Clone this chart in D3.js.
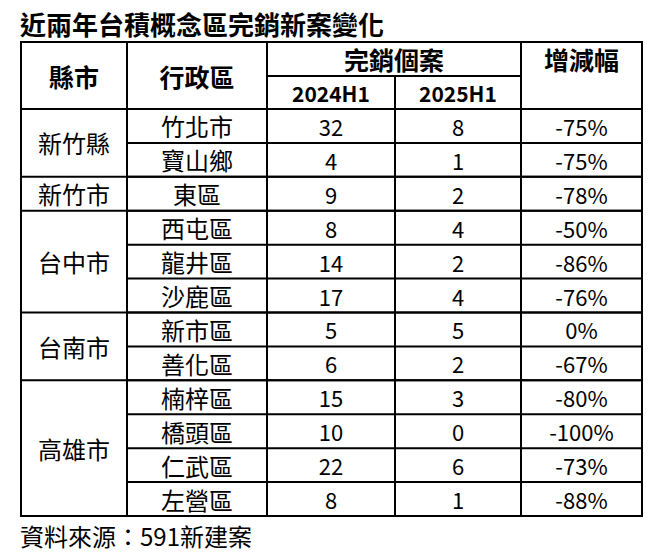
<!DOCTYPE html><html><head><meta charset="utf-8">
<script src="https://cdn.jsdelivr.net/npm/d3@7"></script>
<style>body{margin:0;background:#fff}</style></head><body><svg id="c" width="671" height="555"></svg>
<script>
const title="近兩年台積概念區完銷新案變化";
const headers=["縣市","行政區","完銷個案","增減幅"];
const subHeaders=["2024H1","2025H1"];
const cities=[["新竹縣",2],["新竹市",1],["台中市",3],["台南市",2],["高雄市",4]];
const districts=["竹北市","寶山鄉","東區","西屯區","龍井區","沙鹿區","新市區","善化區","楠梓區","橋頭區","仁武區","左營區"];
const v2024=[32,4,9,8,14,17,5,6,15,10,22,8];
const v2025=[8,1,2,4,2,4,5,2,3,0,6,1];
const change=["-75%","-75%","-78%","-50%","-86%","-76%","0%","-67%","-80%","-100%","-73%","-88%"];
const source="資料來源：591新建案";

const svg=d3.select("#c");
const F="'Noto Sans CJK TC','Noto Sans CJK SC',sans-serif";
const cx=[21,127,267,395,521,642];
const y=d3.scaleLinear().domain([0,12]).range([109,516]);
const h0=42,h1=76;
const line=(x1,y1,x2,y2)=>svg.append("line").attr("x1",x1).attr("y1",y1).attr("x2",x2).attr("y2",y2).attr("stroke","#000").attr("stroke-width",2);
const text=(t,x,yy,size,bold)=>svg.append("text").text(t).attr("x",x).attr("y",yy).attr("text-anchor","middle").attr("dominant-baseline","central").attr("font-family",F).attr("font-size",size).attr("font-weight",bold?"bold":"normal").attr("fill","#000");

svg.append("text").text(title).attr("x",20).attr("y",35).attr("font-family",F).attr("font-size",26).attr("font-weight","bold");
svg.append("rect").attr("x",cx[0]).attr("y",h0).attr("width",cx[5]-cx[0]).attr("height",y(12)-h0).attr("fill","none").attr("stroke","#000").attr("stroke-width",2);
[1,2,4].forEach(i=>line(cx[i],h0,cx[i],y(12)));
line(cx[3],h1,cx[3],y(12));
line(cx[2],h1,cx[4],h1);
line(cx[0],y(0),cx[5],y(0));
text(headers[0],(cx[0]+cx[1])/2,(h0+y(0))/2,25,true);
text(headers[1],(cx[1]+cx[2])/2,(h0+y(0))/2,25,true);
text(headers[2],(cx[2]+cx[4])/2,(h0+h1)/2,25,true);
text(headers[3],(cx[4]+cx[5])/2,(h0+h1)/2,25,true);
text(subHeaders[0],(cx[2]+cx[3])/2,(h1+y(0))/2,21,true);
text(subHeaders[1],(cx[3]+cx[4])/2,(h1+y(0))/2,21,true);
let r=0;
cities.forEach(([c,n])=>{
  text(c,(cx[0]+cx[1])/2,(y(r)+y(r+n))/2,24,false);
  r+=n; if(r<12) line(cx[0],y(r),cx[5],y(r));
});
districts.forEach((d,i)=>{
  if(i>0) line(cx[1],y(i),cx[5],y(i));
  const m=(y(i)+y(i+1))/2;
  text(d,(cx[1]+cx[2])/2,m,24,false);
  text(v2024[i],(cx[2]+cx[3])/2,m,22,false);
  text(v2025[i],(cx[3]+cx[4])/2,m,22,false);
  text(change[i],(cx[4]+cx[5])/2,m,22,false);
});
svg.append("text").text(source).attr("x",20).attr("y",546).attr("font-family",F).attr("font-size",24);
</script></body></html>
